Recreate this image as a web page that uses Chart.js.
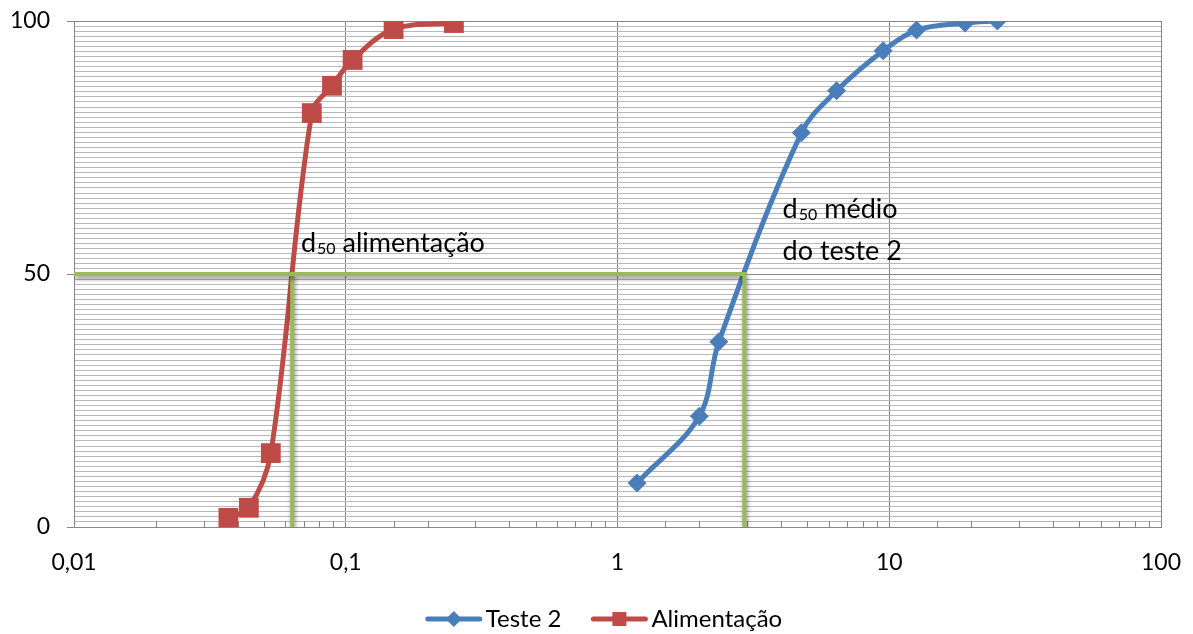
<!DOCTYPE html>
<html>
<head>
<meta charset="utf-8">
<script src="https://cdn.jsdelivr.net/npm/chart.js@4/dist/chart.umd.min.js"></script>
<style>
  html, body { margin: 0; padding: 0; background: #fff; }
</style>
</head>
<body>
<canvas id="chart" width="1193" height="634"></canvas>
<script>
// Cumulative passing (%) vs particle size (mm)
const teste2Size = [1.18, 2.0, 2.36, 4.75, 6.4, 9.5, 12.6, 19, 25];
const teste2Pass = [8.7, 21.9, 36.6, 77.9, 86.2, 94.1, 98.2, 99.6, 100];
const alimSize = [0.037, 0.044, 0.053, 0.075, 0.089, 0.106, 0.15, 0.25];
const alimPass = [1.8, 3.8, 14.6, 81.8, 87.2, 92.3, 98.4, 99.6];

// d50 reading lines
const d50Level = 50;
const d50Alim = 0.0635;
const d50Teste2 = 2.93;

const xDecades = [0.01, 0.1, 1, 10, 100];
const xTickLabels = ['0,01', '0,1', '1', '10', '100'];
const yTickLabels = [0, 50, 100];

const BLUE = '#4A7EBB';
const RED = '#BE4B48';
const GREEN = '#9BBB59';
const AXIS = '#868686';

Chart.defaults.font.family = 'Lato';
Chart.defaults.color = '#000';

const isDecade = v => xDecades.some(d => Math.abs(d - v) / d < 1e-6);

// text notes, left/baseline anchored in data coordinates
const notes = [
  { x: 0.0684, y: 54.3, main: 'd', sub: '50', rest: ' alimentação' },
  { x: 4.05, y: 61.1, main: 'd', sub: '50', rest: ' médio' },
  { x: 4.05, y: 52.8, main: 'do teste 2', sub: '', rest: '' }
];

const shadowPlugin = {
  id: 'shadow',
  beforeDatasetDraw(chart, args) {
    if (chart.data.datasets[args.index].shadow) {
      const ctx = chart.ctx;
      ctx.save();
      ctx.shadowColor = 'rgba(0,0,0,0.45)';
      ctx.shadowBlur = 4;
      ctx.shadowOffsetX = 1;
      ctx.shadowOffsetY = 3;
    }
  },
  afterDatasetDraw(chart, args) {
    if (chart.data.datasets[args.index].shadow) chart.ctx.restore();
  }
};

// minor tick marks pointing up into the plot from the x axis
const minorTicksPlugin = {
  id: 'minorTicks',
  beforeDatasetsDraw(chart) {
    const xs = chart.scales.x, ctx = chart.ctx;
    const bottom = chart.chartArea.bottom;
    ctx.save();
    ctx.strokeStyle = AXIS;
    ctx.lineWidth = 1;
    xs.ticks.forEach(t => {
      if (isDecade(t.value)) return;
      const px = Math.round(xs.getPixelForValue(t.value)) + 0.5;
      ctx.beginPath(); ctx.moveTo(px, bottom); ctx.lineTo(px, bottom - 6); ctx.stroke();
    });
    ctx.restore();
  }
};

const notesPlugin = {
  id: 'notes',
  afterDatasetsDraw(chart) {
    const ctx = chart.ctx, xs = chart.scales.x, ys = chart.scales.y;
    ctx.save();
    ctx.fillStyle = '#000';
    ctx.textBaseline = 'alphabetic';
    notes.forEach(n => {
      let px = xs.getPixelForValue(n.x);
      const py = ys.getPixelForValue(n.y);
      ctx.font = '27px Lato';
      ctx.fillText(n.main, px, py);
      px += ctx.measureText(n.main).width;
      if (n.sub) {
        ctx.font = '16px Lato';
        ctx.fillText(n.sub, px + 1, py + 2);
        px += ctx.measureText(n.sub).width + 1;
      }
      if (n.rest) {
        ctx.font = '27px Lato';
        ctx.fillText(n.rest, px, py);
      }
    });
    ctx.restore();
  }
};

// Excel-style legend: short line with the marker in its middle, then the label
const lineLegendPlugin = {
  id: 'lineLegend',
  afterDraw(chart) {
    const ctx = chart.ctx;
    const items = chart.data.datasets.filter(d => !d.shadow);
    const iconW = 56, textGap = 4, itemGap = 30, centerX = 604, y = 619;
    ctx.save();
    ctx.font = '24px Lato';
    const widths = items.map(d => iconW + textGap + ctx.measureText(d.label).width);
    const total = widths.reduce((a, b) => a + b, 0) + itemGap * (items.length - 1);
    let x = centerX - total / 2;
    items.forEach((d, i) => {
      ctx.strokeStyle = d.borderColor;
      ctx.fillStyle = d.borderColor;
      ctx.lineWidth = 5;
      ctx.lineCap = 'round';
      ctx.beginPath(); ctx.moveTo(x + 2, y); ctx.lineTo(x + iconW - 2, y); ctx.stroke();
      const mx = x + iconW / 2;
      ctx.beginPath();
      if (d.pointStyle === 'rectRot') {
        ctx.moveTo(mx, y - 8); ctx.lineTo(mx + 8, y); ctx.lineTo(mx, y + 8); ctx.lineTo(mx - 8, y);
      } else {
        ctx.rect(mx - 7, y - 7, 14, 14);
      }
      ctx.closePath(); ctx.fill();
      ctx.fillStyle = '#000';
      ctx.textBaseline = 'middle';
      ctx.textAlign = 'left';
      ctx.fillText(d.label, x + iconW + textGap, y);
      x += widths[i] + itemGap;
    });
    ctx.restore();
  }
};

new Chart(document.getElementById('chart'), {
  type: 'line',
  data: {
    datasets: [
      {
        label: 'Teste 2',
        data: teste2Size.map((s, i) => ({ x: s, y: teste2Pass[i] })),
        borderColor: BLUE, backgroundColor: BLUE,
        borderWidth: 5, tension: 0.35,
        pointStyle: 'rectRot', pointRadius: 9.5, pointBorderWidth: 0,
        order: 2
      },
      {
        label: 'Alimentação',
        data: alimSize.map((s, i) => ({ x: s, y: alimPass[i] })),
        borderColor: RED, backgroundColor: RED,
        borderWidth: 5, tension: 0.35,
        pointStyle: 'rect', pointRadius: 14, pointBorderWidth: 0,
        order: 2
      },
      {
        label: 'd50 teste 2',
        data: [{ x: xDecades[0], y: d50Level }, { x: d50Teste2, y: d50Level }, { x: d50Teste2, y: 0 }],
        borderColor: GREEN, borderWidth: 4, pointRadius: 0, tension: 0,
        shadow: true, order: 1
      },
      {
        label: 'd50 alimentação',
        data: [{ x: d50Alim, y: d50Level }, { x: d50Alim, y: 0 }],
        borderColor: GREEN, borderWidth: 4, pointRadius: 0, tension: 0,
        shadow: true, order: 1
      }
    ]
  },
  options: {
    responsive: false,
    animation: false,
    layout: { padding: { top: 21, right: 32, left: 0, bottom: 0 } },
    scales: {
      x: {
        type: 'logarithmic', min: 0.01, max: 100,
        border: { color: AXIS, width: 1 },
        grid: {
          color: c => isDecade(c.tick.value) ? AXIS : 'rgba(0,0,0,0)',
          drawTicks: false
        },
        ticks: {
          autoSkip: false, maxRotation: 0, padding: 22,
          font: { size: 23 },
          callback: v => {
            const i = xDecades.findIndex(d => Math.abs(d - v) / d < 1e-6);
            return i >= 0 ? xTickLabels[i] : '';
          }
        },
        afterFit: s => { s.height = 107; s.paddingLeft = 0; s.paddingRight = 0; }
      },
      y: {
        min: 0, max: 100,
        border: { color: AXIS, width: 1 },
        grid: {
          color: c => c.tick.value % 50 === 0 ? AXIS : '#B8B8B8',
          tickColor: c => c.tick.value % 50 === 0 ? AXIS : 'rgba(0,0,0,0)',
          tickLength: 7
        },
        ticks: {
          stepSize: 1, maxTicksLimit: 200, autoSkip: false, padding: 17,
          font: { size: 23 },
          callback: v => yTickLabels.includes(v) ? String(v) : ''
        },
        afterFit: s => { s.width = 74; s.paddingTop = 0; s.paddingBottom = 0; }
      }
    },
    plugins: {
      tooltip: { enabled: false },
      legend: { display: false }
    }
  },
  plugins: [shadowPlugin, minorTicksPlugin, notesPlugin, lineLegendPlugin]
});
</script>
</body>
</html>
